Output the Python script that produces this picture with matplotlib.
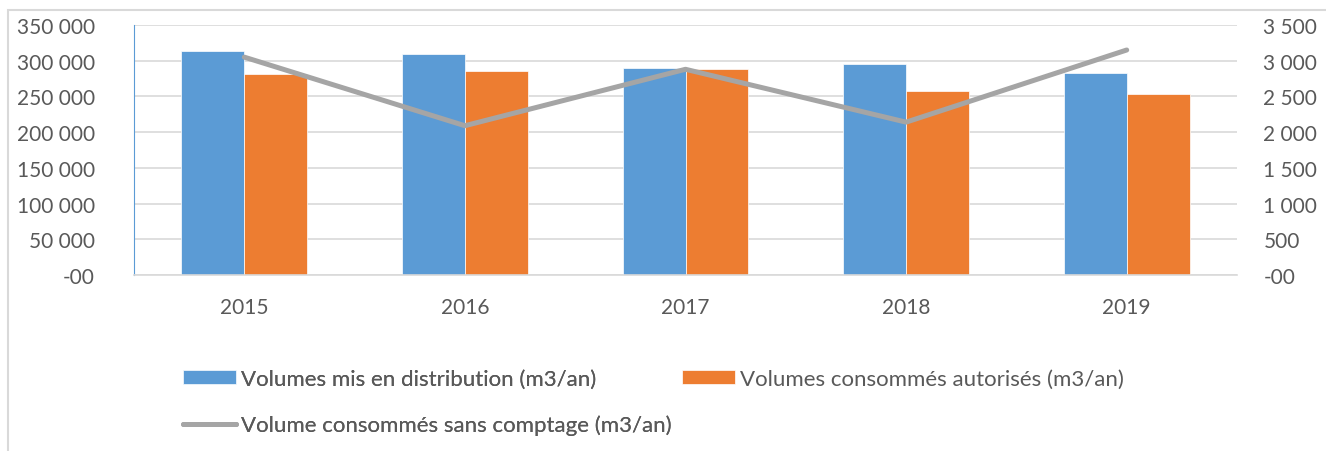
import matplotlib
matplotlib.use('Agg')
import matplotlib.pyplot as plt
import numpy as np
from matplotlib.ticker import FuncFormatter
from matplotlib.patches import Rectangle

years = ['2015', '2016', '2017', '2018', '2019']
vol_distrib = [313600, 309400, 289800, 295400, 282800]
vol_autorises = [281400, 285600, 288400, 257600, 253400]
vol_sans_comptage = [3050, 2090, 2880, 2140, 3150]

label_distrib = 'Volumes mis en distribution (m3/an)'
label_autorises = 'Volumes consommés autorisés (m3/an)'
label_sans = 'Volume consommés sans comptage (m3/an)'

blue = '#5b9bd5'
orange = '#ed7d31'
grey = '#a5a5a5'
txt = '#595959'

plt.rcParams['font.family'] = ['Lato', 'DejaVu Sans']

W, H = 1326, 452
fig = plt.figure(figsize=(W / 100, H / 100), dpi=100)

# light frame round the chart area
fig.patches.append(Rectangle((8 / W, -0.1), 1.2, (H - 11) / H + 0.1, transform=fig.transFigure,
                             fill=False, edgecolor='#d9d9d9', linewidth=1.5))

ax = fig.add_axes([134 / W, (H - 276) / H, 1103 / W, 250 / H])
ax2 = ax.twinx()

x = np.arange(len(years))
bw = 0.285
ax.bar(x - bw / 2, vol_distrib, bw, color=blue, edgecolor='white', linewidth=0.5, label=label_distrib, zorder=2)
ax.bar(x + bw / 2, vol_autorises, bw, color=orange, edgecolor='white', linewidth=0.5, label=label_autorises, zorder=2)
ax2.plot(x, vol_sans_comptage, color=grey, linewidth=3.6, solid_capstyle='round', label=label_sans)

ax.set_xlim(-0.5, len(years) - 0.5)
ax.set_ylim(0, 350000)
ax2.set_ylim(0, 3500)
ax.set_yticks(np.arange(0, 350001, 50000))
ax2.set_yticks(np.arange(0, 3501, 500))

def fmt(v, pos):
    if v == 0:
        return '-00'
    return '{:,.0f}'.format(v).replace(',', ' ')

ax.yaxis.set_major_formatter(FuncFormatter(fmt))
ax2.yaxis.set_major_formatter(FuncFormatter(fmt))

ax.set_xticks(x)
ax.set_xticklabels(years)
ax.grid(axis='y', color='#d9d9d9', linewidth=1.2, zorder=0)
ax.set_axisbelow(True)

for a in (ax, ax2):
    for s in a.spines.values():
        s.set_visible(False)
    a.tick_params(length=0, labelcolor=txt)
ax.spines['left'].set_visible(True)
ax.spines['left'].set_color(blue)
ax.spines['bottom'].set_visible(True)
ax.spines['bottom'].set_color('#d9d9d9')
ax.spines['bottom'].set_linewidth(1.2)
ax.tick_params(axis='y', labelsize=15, pad=28)
ax.tick_params(axis='x', labelsize=15, pad=16)
ax2.tick_params(axis='y', labelsize=15, pad=19)

h1, l1 = ax.get_legend_handles_labels()
h2, l2 = ax2.get_legend_handles_labels()
fs = 16
leg_kw = dict(frameon=False, fontsize=fs, labelcolor=txt, handlelength=2.39, handleheight=0.63,
              handletextpad=0.22, labelspacing=1.15, borderpad=0, borderaxespad=0, loc='upper left')
leg1 = fig.legend([h1[0], h2[0]], [l1[0], l2[0]], bbox_to_anchor=(183 / W, (H - 370) / H), **leg_kw)
fig.add_artist(leg1)
fig.legend([h1[1]], [l1[1]], bbox_to_anchor=(682 / W, (H - 370) / H), **leg_kw)

fig.savefig('out.png', dpi=100)
